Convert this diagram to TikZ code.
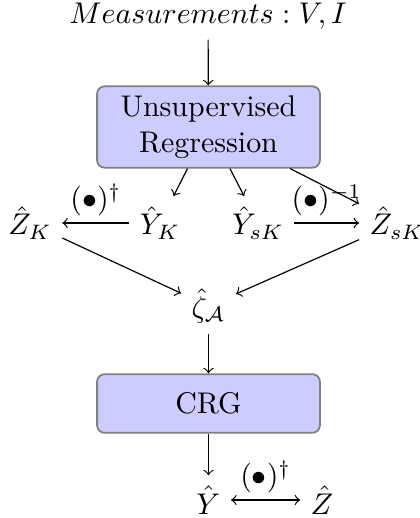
\documentclass[tikz,border=0pt]{standalone}
\usepackage{xcolor}
\definecolor{Lavender Blue}{HTML}{ccccff}
\colorlet{cBox}{Lavender Blue}
\usepackage{tikz}
\usetikzlibrary{arrows.meta, positioning}
\tikzset{
	>={Classical TikZ Rightarrow},
	block/.style={
		draw=gray,
		fill=cBox,
		rounded corners=2.5pt,
		line width=.6pt,
		minimum width=74.5pt,
		minimum height=27.2pt,
		inner ysep=2pt,
		align=center
	},
	edge/.style={
		->
	},
	op/.style={
		above,
		inner sep=2pt
	}
}

\begin{document}
\begin{tikzpicture}[x=.3344pt, y=-.3344pt]
	\useasboundingbox (0,0) rectangle (420,518);

	\node at (208,16) (meas) {$Measurements : V, I$};
	\node[block] at (208.5,127) (reg) {Unsupervised\\Regression};

	\node at (30,223) (zk) {$\hat{Z}_K$};
	\node at (160,223) (yk) {$\hat{Y}_K$};
	\node at (258,223) (ysk) {$\hat{Y}_{sK}$};
	\node at (397,223) (zsk) {$\hat{Z}_{sK}$};

	\node at (208.5,306) (zeta) {$\hat{\zeta}_{\mathcal{A}}$};
	\node[block, minimum height=19.6pt] at (208.5,403.5) (crg) {CRG};

	\node at (208.5,500) (y) {$\hat{Y}$};
	\node at (322,500) (z) {$\hat{Z}$};

	\draw[edge] (meas) -- (reg);
	\draw[edge] (reg) -- (yk);
	\draw[edge] (reg) -- (ysk);
	\draw[edge] (reg) -- (zsk);
	\draw[edge] (yk) -- (zk) node[midway, op] {$(\bullet)^{\dagger}$};
	\draw[edge] (ysk) -- (zsk) node[midway, op] {$(\bullet)^{-1}$};
	\draw[edge] (zk) -- (zeta);
	\draw[edge] (zsk) -- (zeta);
	\draw[edge] (zeta) -- (crg);
	\draw[edge] (crg) -- (y);
	\draw[<->] (y) -- (z) node[midway, op] {$(\bullet)^{\dagger}$};
\end{tikzpicture}
\end{document}
